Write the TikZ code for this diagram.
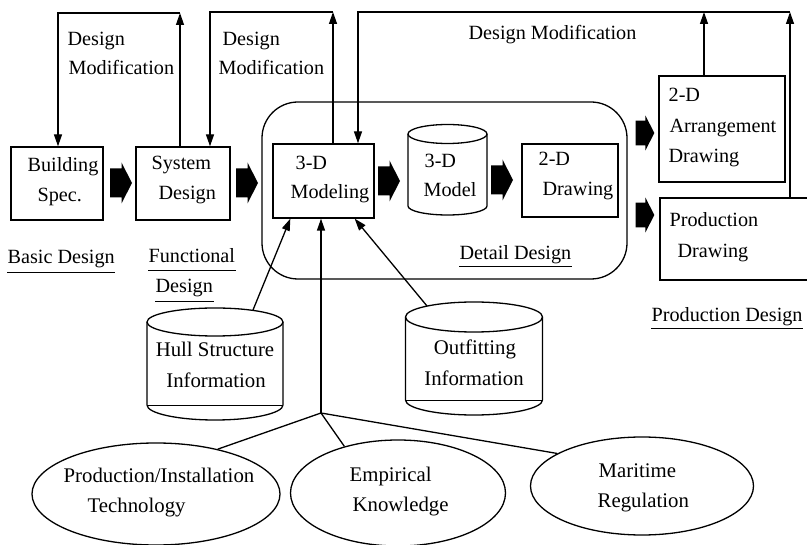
\documentclass[tikz,border=0pt]{standalone}
\usepackage{fontspec}
\setmainfont{Liberation Serif}
\usetikzlibrary{arrows.meta,calc,shapes.geometric}
\begin{document}
\begin{tikzpicture}[x=1pt,y=-1pt,line width=1.3pt,
  font=\fontsize{20.2}{23}\selectfont,
  tip/.style={-{Triangle[length=12pt,width=8pt]}},
  box/.style={draw,inner sep=0pt,rectangle},
  oval/.style={draw,ellipse,inner sep=0pt},
  txt/.style={anchor=base west,inner sep=0pt},
  ctxt/.style={anchor=base,inner sep=0pt},
  big/.style={font=\fontsize{20.8}{24}\selectfont},
  uline/.style={line width=0.9pt},
  blockarrow/.pic={\fill (-11,-14.5) -- (0.5,-14.5) -- (0.5,-20.5) -- (11,0)
      -- (0.5,20.5) -- (0.5,14.5) -- (-11,14.5) -- cycle;}]
\useasboundingbox (0,0) rectangle (807,545);

% process boxes
\node[box,minimum width=92,minimum height=73] (bs) at (57,183.5) {};
\node[box,minimum width=94,minimum height=73] (sd) at (183,183.5) {};
\node[draw,rounded corners=36pt,inner sep=0pt,minimum width=365,minimum height=177] (detail) at (444.5,190.5) {};
\node[box,minimum width=101,minimum height=74] (m3) at (323.5,181) {};
\node[box,minimum width=96,minimum height=73] (d2) at (570,180.5) {};
\node[box,minimum width=126,minimum height=106] (ar) at (722,129) {};
\node[box,minimum width=160,minimum height=82] (pd) at (740,239) {};

% 3-D model store
\node[inner sep=0pt,minimum width=79,minimum height=90] (model) at (447.5,170) {};
\draw (447.5,134) ellipse [x radius=39.5,y radius=9.5];
\draw (408,134) -- (408,206) arc[start angle=180,end angle=0,x radius=39.5,y radius=9] -- (487,134);

% hull structure store
\node[inner sep=0pt,minimum width=136,minimum height=113] (hull) at (215,364) {};
\draw (215,322) ellipse [x radius=68,y radius=14];
\draw (147,322) -- (147,405) arc[start angle=180,end angle=0,x radius=68,y radius=15] -- (283,322);
\draw[line width=0.8pt] (147,405) -- (283,405);
\coordinate (hulltop) at (253,310);

% outfitting store
\node[inner sep=0pt,minimum width=137,minimum height=113] (outf) at (474,359) {};
\draw (474,317) ellipse [x radius=68.5,y radius=15];
\draw (405.5,317) -- (405.5,400) arc[start angle=180,end angle=0,x radius=68.5,y radius=15] -- (542.5,317);
\draw[line width=0.8pt] (405.5,400) -- (542.5,400);
\coordinate (outftop) at (427,306);

% knowledge sources
\node[oval,minimum width=248,minimum height=102] (pit) at (156,494) {};
\node[oval,minimum width=215,minimum height=106] (emp) at (398,493) {};
\node[oval,minimum width=223,minimum height=98] (mar) at (642,486) {};

% block arrows along the flow
\pic at (121,183) {blockarrow};
\pic at (247,183) {blockarrow};
\pic at (389,181) {blockarrow};
\pic at (502,180) {blockarrow};
\pic[scale=0.85] at (645,133) {blockarrow};
\pic[scale=0.85] at (645,215) {blockarrow};

% design modification loops
\coordinate (u1) at (180,13);
\coordinate (d1) at (58,13);
\draw[tip] (sd.north -| u1) -- (u1);
\draw[tip] (u1) -- (d1) -- (bs.north -| d1);

\coordinate (u2) at (333,12);
\coordinate (d2c) at (210,12);
\draw[tip] (m3.north -| u2) -- (u2);
\draw[tip] (u2) -- (d2c) -- (sd.north -| d2c);

\coordinate (u3) at (704,12);
\coordinate (u4) at (790,12);
\coordinate (d3) at (358,12);
\draw[tip] (ar.north -| u3) -- (u3);
\draw[tip] (pd.north -| u4) -- (u4);
\draw[tip] (u4) -- (d3) -- (m3.north -| d3);

% inputs to 3-D modeling
\coordinate (j) at (321,413);
\draw[tip] (hulltop) -- ($(m3.south west)+(18,0)$);
\draw[tip] (j) -- (m3.south -| j);
\draw[tip] (outftop) -- ($(m3.south east)+(-20,0)$);
\draw (pit.36) -- (j) -- (emp.139);
\draw (j) -- (mar.159);

% texts in boxes
\node[txt] (t1) at (27,172) {Building};
\node[txt] (t2) at (37,202) {Spec.};
\node[txt] (t3) at (151,170) {System};
\node[txt] (t4) at (158,200) {Design};
\node[txt] (t5) at (295,170) {3-D};
\node[txt] (t6) at (290,199) {Modeling};
\node[txt] (t7) at (424,168) {3-D};
\node[txt] (t8) at (423,197) {Model};
\node[txt] (t9) at (538,166) {2-D};
\node[txt] (t10) at (542,196) {Drawing};
\node[txt] (t11) at (668,102) {2-D};
\node[txt] (t12) at (669,133) {Arrangement};
\node[txt] (t13) at (668,163) {Drawing};
\node[txt] (t14) at (669,227) {Production};
\node[txt] (t15) at (677,258) {Drawing};
\node[ctxt,big] (t16) at (215,357) {Hull Structure};
\node[ctxt,big] (t17) at (216,388) {Information};
\node[ctxt,big] (t18) at (475,355) {Outfitting};
\node[ctxt,big] (t19) at (474,386) {Information};
\node[txt,big] (t20) at (63,483) {Production/Installation};
\node[txt,big] (t21) at (87,513) {Technology};
\node[txt,big] (t22) at (349,482) {Empirical};
\node[txt,big] (t23) at (352,512) {Knowledge};
\node[txt,big] (t24) at (598,478) {Maritime};
\node[txt,big] (t25) at (597,508) {Regulation};

% loop labels
\node[txt] (m1a) at (67,46) {Design};
\node[txt] (m1b) at (68,75) {Modification};
\node[txt] (m2a) at (222,46) {Design};
\node[txt] (m2b) at (218,75) {Modification};
\node[txt] (m3l) at (468,40) {Design Modification};

% phase labels
\node[txt] (pb) at (7,264) {Basic Design};
\node[txt] (pf1) at (148,263) {Functional};
\node[txt] (pf2) at (155,293) {Design};
\node[txt] (pdd) at (459,260) {Detail Design};
\node[txt] (ppd) at (651,322) {Production Design};
\foreach \n/\o in {pb/8,pf1/7,pf2/8,pdd/6,ppd/6}
  \draw[uline] ($(\n.base west)+(0,\o)$) -- ($(\n.base east)+(0,\o)$);
\end{tikzpicture}
\end{document}
